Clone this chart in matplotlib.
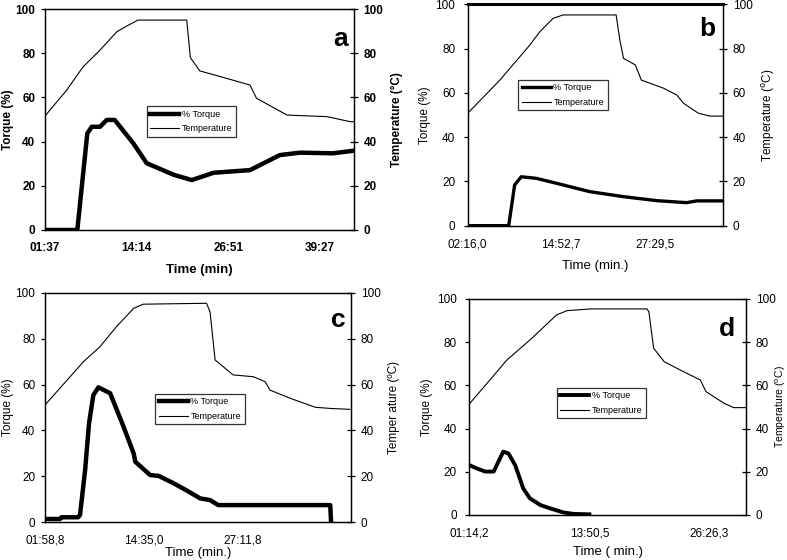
import numpy as np
import matplotlib
matplotlib.use("Agg")
import matplotlib.pyplot as plt

plt.rcParams['font.family'] = ['Liberation Sans', 'DejaVu Sans']

# time in minutes
# panel a
a_temp_t = [1.62, 4.6, 6.84, 9.18, 11.48, 12.85, 14.4, 21.1, 21.6, 22.9, 26.6, 29.8, 30.7, 34.9, 40.4, 43.6, 44.1]
a_temp_v = [51.6, 63.3, 73.8, 81.4, 89.7, 92.3, 95.0, 95.0, 78.0, 72.0, 68.6, 65.6, 59.6, 52.0, 51.3, 49.0, 49.0]
a_torq_t = [1.62, 6.06, 7.43, 8.04, 9.18, 10.1, 11.2, 13.76, 15.6, 19.3, 21.8, 24.8, 29.8, 33.9, 36.7, 41.2, 44.1]
a_torq_v = [0.0, 0.0, 43.7, 46.7, 46.7, 49.8, 49.8, 39.2, 30.2, 25.0, 22.6, 25.9, 27.1, 33.9, 35.0, 34.7, 35.9]
a_ticks = [1.617, 14.233, 26.85, 39.45]
a_ticklabels = ['01:37', '14:14', '26:51', '39:27']

# panel b
b_temp_t = [2.27, 6.62, 10.65, 12.0, 13.8, 15.15, 22.3, 22.8, 23.3, 24.9, 25.7, 28.7, 30.5, 31.4, 33.4, 35.0, 36.8]
b_temp_v = [50.8, 65.8, 81.6, 87.6, 93.7, 95.2, 95.2, 83.9, 75.6, 72.6, 65.8, 62.1, 59.0, 55.3, 50.8, 49.5, 49.5]
b_torq_t = [2.27, 7.8, 8.6, 9.5, 11.5, 14.2, 18.7, 23.3, 27.8, 31.8, 33.2, 36.8]
b_torq_v = [0.0, 0.0, 18.4, 22.1, 21.4, 19.2, 15.4, 13.1, 11.3, 10.4, 11.2, 11.2]
b_ticks = [2.267, 14.878, 27.492]
b_ticklabels = ['02:16,0', '14:52,7', '27:29,5']

# panel c
c_temp_t = [1.98, 6.9, 9.0, 11.1, 13.3, 14.5, 22.6, 23.05, 23.7, 26.0, 28.6, 30.1, 30.7, 33.3, 36.5, 38.4, 40.9]
c_temp_v = [51.1, 70.0, 76.5, 85.2, 93.2, 95.0, 95.4, 91.7, 70.7, 64.2, 63.4, 61.2, 57.6, 54.0, 50.1, 49.6, 49.2]
c_torq_t = [1.98, 3.9, 4.1, 6.2, 6.45, 7.1, 7.6, 8.15, 8.8, 10.3, 12.0, 13.3, 13.5, 15.4, 16.5, 18.4, 20.1,
            21.8, 23.05, 24.1, 38.2, 38.4, 38.5]
c_torq_v = [1.45, 1.45, 2.2, 2.2, 3.2, 22.8, 43.1, 55.4, 58.8, 56.2, 41.7, 30.0, 26.4, 20.6, 20.2, 17.0, 13.8,
            10.4, 9.7, 7.5, 7.5, 7.5, 0.0]
c_ticks = [1.98, 14.583, 27.197]
c_ticklabels = ['01:58,8', '14:35,0', '27:11,8']

# panel d
d_temp_t = [1.24, 3.4, 5.2, 7.6, 10.4, 11.5, 13.95, 19.9, 20.1, 20.6, 21.7, 23.4, 25.5, 26.1, 28.0, 29.0, 30.3]
d_temp_v = [51.4, 62.5, 71.8, 81.0, 92.6, 94.6, 95.4, 95.4, 94.1, 77.2, 71.0, 67.1, 62.5, 57.1, 51.7, 49.7, 49.7]
d_torq_t = [1.24, 2.0, 2.9, 3.8, 4.3, 4.8, 5.35, 6.05, 6.6, 6.9, 7.6, 8.7, 9.7, 11.1, 12.2, 13.85]
d_torq_v = [23.1, 21.6, 20.1, 20.1, 24.7, 29.3, 28.5, 23.1, 16.2, 12.3, 7.7, 4.6, 3.1, 1.2, 0.5, 0.3]
d_ticks = [1.237, 13.842, 26.438]
d_ticklabels = ['01:14,2', '13:50,5', '26:26,3']

fig = plt.figure(figsize=(7.87, 5.6), dpi=100)


def panel(rect, xlim, temp_t, temp_v, torq_t, torq_v, ticks, ticklabels, letter, letter_pos,
          leg_pos, torq_lw, bold, xlabel, ylabel_r, top_lw=0.9, xlabelpad=7, rlabelpad=5,
          ylabel_x=None, rlabel_x=None, rlabel_size=8.5, ypad=6):
    weight = 'bold' if bold else 'normal'
    ax = fig.add_axes(rect)
    ax2 = ax.twinx()
    l1, = ax.plot(torq_t, torq_v, color='black', lw=torq_lw, solid_joinstyle='round')
    l2, = ax2.plot(temp_t, temp_v, color='black', lw=0.8)
    for a in (ax, ax2):
        a.set_xlim(*xlim)
        a.set_ylim(0, 100)
        a.set_yticks([0, 20, 40, 60, 80, 100])
        for s in a.spines.values():
            s.set_linewidth(0.9)
        a.spines['top'].set_linewidth(top_lw)
    ax.set_xticks(ticks)
    ax.set_xticklabels(ticklabels, fontsize=8.5, fontweight=weight)
    ax.tick_params(axis='x', length=0, pad=9)
    ax.tick_params(axis='y', direction='out', length=3, width=0.9, labelsize=8.5, pad=ypad)
    ax2.tick_params(axis='y', direction='inout', length=6, width=0.9, labelsize=8.5, pad=4)
    for lab in ax.get_yticklabels() + ax2.get_yticklabels():
        lab.set_fontweight(weight)
    ax.set_xlabel(xlabel, fontsize=9.5, fontweight=weight, labelpad=xlabelpad)
    ax.set_ylabel('Torque (%)', fontsize=8.5, fontweight=weight, labelpad=3)
    if ylabel_x is not None:
        ax.yaxis.set_label_coords(ylabel_x, 0.5)
    ax2.set_ylabel(ylabel_r, fontsize=rlabel_size, fontweight=weight, labelpad=rlabelpad)
    if rlabel_x is not None:
        ax2.yaxis.set_label_coords(rlabel_x, 0.5)
    leg = ax.legend([l1, l2], ['% Torque', 'Temperature'], loc='upper left', bbox_to_anchor=leg_pos,
                    fontsize=6.5, frameon=True, fancybox=False, edgecolor='black',
                    handlelength=3.2, handletextpad=0.3, borderpad=0.4, labelspacing=0.6)
    leg.get_frame().set_linewidth(0.9)
    ax.set_zorder(ax2.get_zorder() + 1)
    ax.patch.set_visible(False)
    ax.text(letter_pos[0], letter_pos[1], letter, transform=ax.transAxes, fontsize=19,
            fontweight='bold', ha='center', va='center')
    return ax


panel([0.0572, 0.5893, 0.3926, 0.3946], (1.617, 44.1), a_temp_t, a_temp_v, a_torq_t, a_torq_v,
      a_ticks, a_ticklabels, 'a', (0.955, 0.865), (0.315, 0.58), 3.2, True, 'Time (min)',
      'Temperature (°C)', ylabel_x=-0.1, ypad=4)
panel([0.5943, 0.5970, 0.3244, 0.3953], (2.267, 36.73), b_temp_t, b_temp_v, b_torq_t, b_torq_v,
      b_ticks, b_ticklabels, 'b', (0.94, 0.89), (0.18, 0.68), 2.4, False, 'Time (min.)',
      'Temperature ($^{\\mathrm{o}}$C)', top_lw=2.0)
panel([0.0572, 0.0673, 0.3888, 0.4100], (1.98, 41.05), c_temp_t, c_temp_v, c_torq_t, c_torq_v,
      c_ticks, c_ticklabels, 'c', (0.96, 0.88), (0.345, 0.58), 3.2, False, 'Time (min.)',
      'Temper ature (ºC)', xlabelpad=0, ylabel_x=-0.101, ypad=4)
panel([0.5963, 0.0804, 0.3516, 0.3857], (1.237, 30.3), d_temp_t, d_temp_v, d_torq_t, d_torq_v,
      d_ticks, d_ticklabels, 'd', (0.93, 0.86), (0.3, 0.61), 2.8, False, 'Time ( min.)',
      'Temperature ($^{\\mathrm{o}}$C)', xlabelpad=5, rlabel_x=1.098, rlabel_size=7.5)

fig.savefig('out.png', dpi=100)
